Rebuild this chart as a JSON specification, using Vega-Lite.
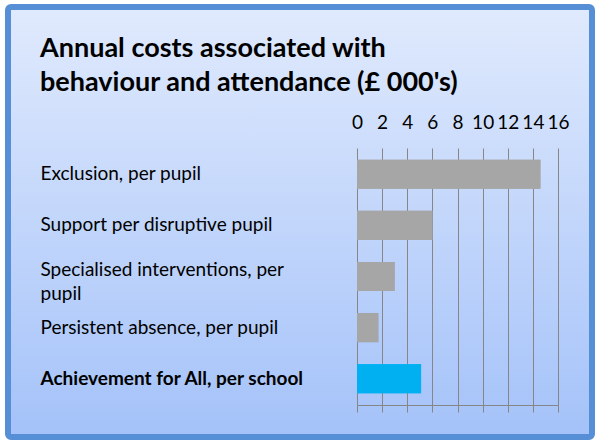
{
  "$schema": "https://vega.github.io/schema/vega-lite/v6.json",
  "width": 584,
  "height": 430,
  "autosize": {"type": "none"},
  "padding": {"left": 8, "top": 7, "right": 8, "bottom": 11},
  "background": "#ffffff",
  "config": {
    "font": "Lato"
  },
  "view": {
    "stroke": "#568fd6",
    "strokeWidth": 6,
    "cornerRadius": 3,
    "fill": {
      "gradient": "linear",
      "x1": 0, "y1": 0, "x2": 0, "y2": 1,
      "stops": [
        {"offset": 0, "color": "#e0eafd"},
        {"offset": 1, "color": "#a4c2f9"}
      ]
    }
  },
  "title": {
    "text": ["Annual costs associated with", "behaviour and attendance (£ 000's)"],
    "anchor": "start",
    "frame": "group",
    "orient": "top",
    "fontSize": 27,
    "fontWeight": "bold",
    "font": "Lato",
    "color": "#000000",
    "baseline": "alphabetic",
    "lineHeight": 34,
    "dx": 32,
    "offset": -111
  },
  "datasets": {
    "costs": [
      {"item": "Exclusion, per pupil", "cost": 14.6, "kind": "cost"},
      {"item": "Support per disruptive pupil", "cost": 6.0, "kind": "cost"},
      {"item": "Specialised interventions, per pupil", "cost": 3.0, "kind": "cost"},
      {"item": "Persistent absence, per pupil", "cost": 1.7, "kind": "cost"},
      {"item": "Achievement for All, per school", "cost": 5.1, "kind": "programme"}
    ]
  },
  "layer": [
    {
      "data": {"name": "costs"},
      "mark": {"type": "bar"},
      "encoding": {
        "y": {
          "field": "item",
          "type": "nominal",
          "sort": null,
          "scale": {"range": [141, 398], "paddingInner": 0.43, "paddingOuter": 0.23},
          "axis": {
            "title": null,
            "orient": "left",
            "offset": -32,
            "domain": false,
            "ticks": false,
            "tickSize": 0,
            "grid": false,
            "labelPadding": 0,
            "labelAlign": "left",
            "labelLimit": 400,
            "labelFont": "Lato",
            "labelFontSize": 19,
            "labelColor": "#000000",
            "labelLineHeight": 24,
            "labelOffset": {
              "condition": {"test": "datum.value == 'Specialised interventions, per pupil'", "value": -7},
              "value": 0
            },
            "labelFontWeight": {
              "condition": {"test": "datum.value == 'Achievement for All, per school'", "value": "bold"},
              "value": "normal"
            },
            "labelExpr": "datum.value == 'Specialised interventions, per pupil' ? ['Specialised interventions, per', 'pupil'] : datum.value"
          }
        },
        "x": {
          "field": "cost",
          "type": "quantitative",
          "scale": {"domain": [0, 16], "range": [349, 550], "nice": false, "zero": true},
          "axis": {
            "title": null,
            "orient": "top",
            "offset": -121,
            "values": [0, 2, 4, 6, 8, 10, 12, 14, 16],
            "domain": false,
            "ticks": false,
            "tickSize": 0,
            "labelPadding": 0,
            "labelBaseline": "alphabetic",
            "labelFont": "Lato",
            "labelFontSize": 19,
            "labelColor": "#000000",
            "labelFlush": false,
            "labelOverlap": false,
            "grid": true,
            "gridColor": "#868686",
            "gridWidth": 1,
            "gridOpacity": 1
          }
        },
        "color": {
          "field": "kind",
          "type": "nominal",
          "scale": {"domain": ["cost", "programme"], "range": ["#a6a6a6", "#00b0f0"]},
          "legend": null
        }
      }
    },
    {
      "data": {"name": "costs"},
      "mark": {"type": "bar"},
      "encoding": {
        "y": {"field": "item", "type": "nominal", "sort": null, "axis": null},
        "x": {
          "field": "cost",
          "type": "quantitative",
          "axis": {
            "title": null,
            "orient": "bottom",
            "offset": -32,
            "values": [0, 2, 4, 6, 8, 10, 12, 14, 16],
            "labels": false,
            "grid": false,
            "domain": true,
            "domainColor": "#868686",
            "domainWidth": 1,
            "ticks": true,
            "tickSize": 7,
            "tickColor": "#868686",
            "tickWidth": 1
          }
        },
        "color": {"field": "kind", "type": "nominal", "legend": null}
      }
    }
  ],
  "resolve": {"axis": {"x": "independent", "y": "independent"}}
}
